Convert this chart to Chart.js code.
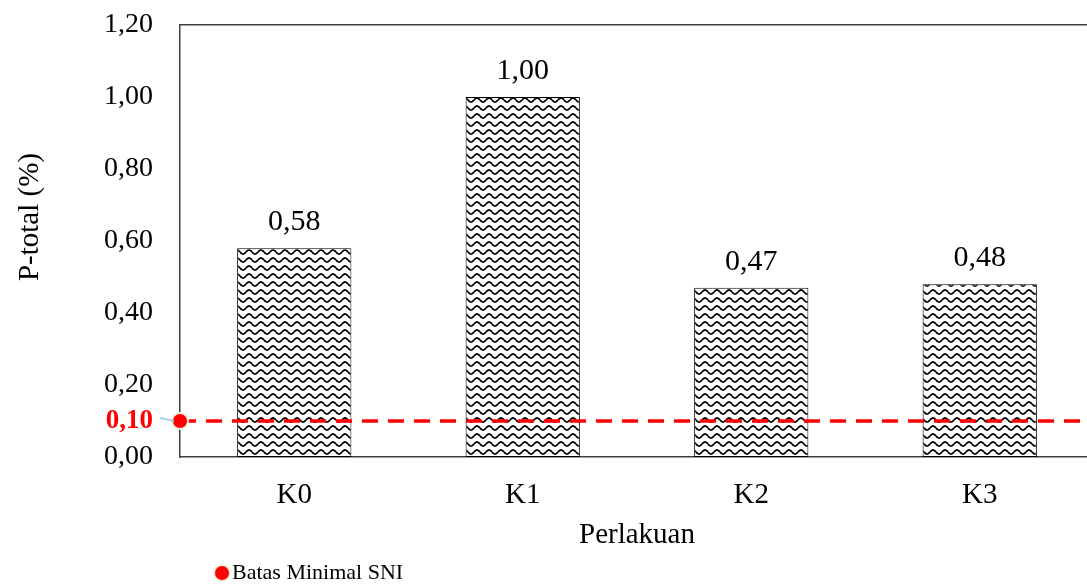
<!DOCTYPE html>
<html>
<head>
<meta charset="utf-8">
<script src="https://cdn.jsdelivr.net/npm/chart.js@4"></script>
<style>
  html, body { margin: 0; padding: 0; background: #fff; overflow: hidden; }
  #wrap { width: 1104px; height: 585px; }
</style>
</head>
<body>
<div id="wrap"><canvas id="myCanvas" width="1104" height="585" style="width:1104px;height:585px"></canvas></div>
<script>
// data
const categories = ['K0', 'K1', 'K2', 'K3'];
const pTotal = [0.58, 1.00, 0.47, 0.48];
const batasSNI = 0.10;
const yTicks = [0, 0.2, 0.4, 0.6, 0.8, 1.0, 1.2];

const FONT = "'Liberation Serif', 'Times New Roman', serif";
const fmt = v => v.toFixed(2).replace('.', ',');

// pola gelombang untuk batang
function wavePattern() {
  const c = document.createElement('canvas');
  c.width = 12; c.height = 8;
  const p = c.getContext('2d');
  p.fillStyle = '#fff';
  p.fillRect(0, 0, 12, 8);
  p.strokeStyle = '#000';
  p.lineWidth = 1.7;
  p.beginPath();
  for (let x = -1; x <= 13; x++) {
    const y = 4 + 2 * Math.sin((x / 12) * Math.PI * 2);
    if (x === -1) p.moveTo(x, y); else p.lineTo(x, y);
  }
  p.stroke();
  return p.createPattern(c, 'repeat');
}

// label nilai, judul sumbu y, label 0,10 merah dan legenda
const extras = {
  id: 'extras',
  afterDatasetsDraw(chart) {
    const ctx = chart.ctx;
    const meta = chart.getDatasetMeta(0);
    ctx.save();
    ctx.fillStyle = '#000';
    ctx.font = '30px ' + FONT;
    ctx.textAlign = 'center';
    ctx.textBaseline = 'bottom';
    meta.data.forEach((bar, i) => {
      ctx.fillText(fmt(pTotal[i]), bar.x, bar.y - 11);
    });
    ctx.restore();
  },
  afterDraw(chart) {
    const ctx = chart.ctx;
    const y = chart.scales.y.getPixelForValue(batasSNI);
    const left = chart.chartArea.left;
    ctx.save();
    // judul sumbu y
    ctx.save();
    ctx.translate(30, 217);
    ctx.rotate(-Math.PI / 2);
    ctx.fillStyle = '#000';
    ctx.font = '29px ' + FONT;
    ctx.textAlign = 'center';
    ctx.textBaseline = 'middle';
    ctx.fillText('P-total (%)', 0, 0);
    ctx.restore();
    // garis penunjuk
    ctx.strokeStyle = '#9dc3e6';
    ctx.lineWidth = 1.5;
    ctx.beginPath();
    ctx.moveTo(left - 20, y - 3);
    ctx.lineTo(left - 6, y);
    ctx.stroke();
    ctx.fillStyle = '#ff0000';
    ctx.font = 'bold 27px ' + FONT;
    ctx.textAlign = 'right';
    ctx.textBaseline = 'middle';
    ctx.fillText(fmt(batasSNI), 153, y);
    // legenda
    ctx.beginPath();
    ctx.arc(222, 573, 8, 0, Math.PI * 2);
    ctx.fillStyle = '#ff0000';
    ctx.fill();
    ctx.strokeStyle = '#eeece1';
    ctx.lineWidth = 2;
    ctx.stroke();
    ctx.fillStyle = '#000';
    ctx.font = '22px ' + FONT;
    ctx.textAlign = 'left';
    ctx.fillText('Batas Minimal SNI', 232, 573);
    ctx.restore();
  }
};

const canvas = document.getElementById('myCanvas');
const ctx = canvas.getContext('2d');
const myChart = new Chart(ctx, {
  type: 'bar',
  data: {
    labels: categories,
    datasets: [{
      label: 'P-total',
      data: pTotal,
      backgroundColor: wavePattern(),
      borderColor: '#000',
      borderWidth: 1,
      borderSkipped: false,
      categoryPercentage: 1,
      barPercentage: 0.5,
      grouped: false,
      order: 1
    }, {
      type: 'line',
      label: 'Batas Minimal SNI',
      xAxisID: 'x2',
      data: [{ x: 0, y: batasSNI }, { x: 1, y: batasSNI }],
      borderColor: '#ff0000',
      borderWidth: 3.5,
      borderDash: [16, 10],
      pointRadius: [8, 0],
      pointBackgroundColor: '#ff0000',
      pointBorderColor: '#eeece1',
      pointBorderWidth: 2,
      clip: false,
      order: 0
    }]
  },
  options: {
    responsive: false,
    animation: false,
    layout: { padding: 0 },
    plugins: {
      legend: { display: false },
      tooltip: { enabled: false }
    },
    scales: {
      x: {
        grid: { display: false, drawTicks: false },
        border: { color: '#3f3f3f', width: 1.5 },
        ticks: { color: '#000', font: { family: FONT, size: 29 }, padding: 21 },
        title: { display: true, text: 'Perlakuan', color: '#000', font: { family: FONT, size: 29 }, padding: { top: 0, bottom: 32 } },
        afterFit(s) { s.height = 128; }
      },
      x2: {
        type: 'linear',
        position: 'top',
        offset: false,
        min: 0, max: 1,
        grid: { display: false, drawTicks: false },
        border: { color: '#3f3f3f', width: 1.5 },
        ticks: { display: false },
        afterFit(s) { s.height = 25; }
      },
      y: {
        min: 0, max: 1.2,
        grid: { display: false, drawTicks: false },
        border: { color: '#3f3f3f', width: 1.5 },
        afterBuildTicks(s) { s.ticks = yTicks.map(v => ({ value: v })); },
        ticks: {
          color: '#000',
          font: { family: FONT, size: 28 },
          padding: 27,
          callback: v => fmt(v)
        },
        afterFit(s) { s.width = 180; s.paddingTop = 0; s.paddingBottom = 0; }
      }
    }
  },
  plugins: [extras]
});
</script>
</body>
</html>
